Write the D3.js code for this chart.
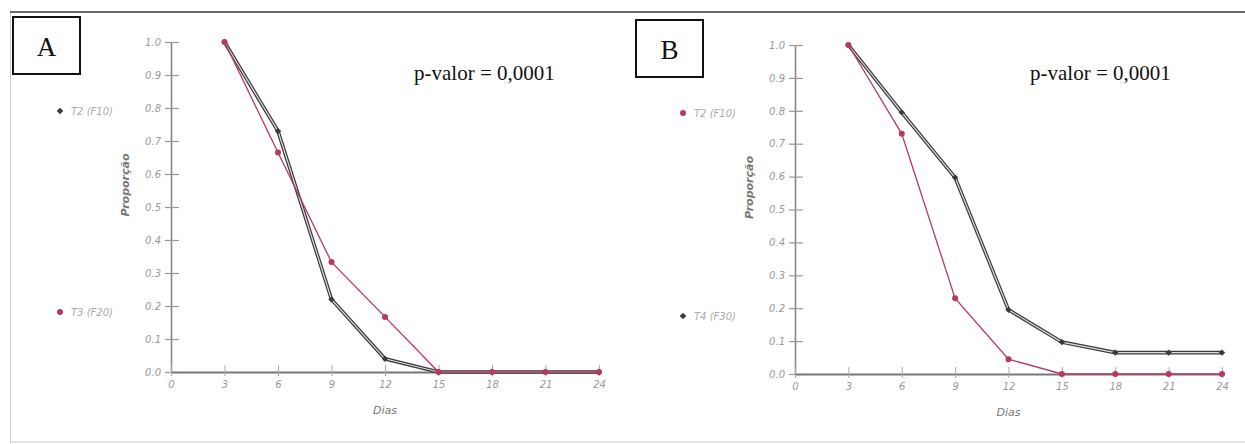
<!DOCTYPE html>
<html>
<head>
<meta charset="utf-8">
<script src="https://cdn.jsdelivr.net/npm/d3@7"></script>
<style>
  body { margin: 0; background: #fff; }
  .tickText { font-family: "DejaVu Sans", sans-serif; font-style: italic; font-size: 10px; fill: #999; }
  .axisLabel { font-family: "DejaVu Sans", sans-serif; font-style: italic; font-size: 11px; fill: #777; }
  .legendText { font-family: "DejaVu Sans", sans-serif; font-style: italic; font-size: 10px; fill: #aaa; }
  .pText { font-family: "Liberation Serif", serif; font-size: 21px; fill: #111; }
  .panelText { font-family: "Liberation Serif", serif; font-size: 27px; fill: #111; }
</style>
</head>
<body>
<div id="chart"></div>
<script>
// Svg Dimensions
var svgWidth = 1245;
var svgHeight = 444;

// Data
var dias = [3, 6, 9, 12, 15, 18, 21, 24];
var xTicks = [0, 3, 6, 9, 12, 15, 18, 21, 24];
var yTicks = [0.0, 0.1, 0.2, 0.3, 0.4, 0.5, 0.6, 0.7, 0.8, 0.9, 1.0];

// Panel A
var aT2 = [1.0, 0.73, 0.22, 0.04, 0.0, 0.0, 0.0, 0.0];
var aT3 = [1.0, 0.665, 0.333, 0.167, 0.0, 0.0, 0.0, 0.0];
// Panel B
var bT2 = [1.0, 0.73, 0.23, 0.045, 0.0, 0.0, 0.0, 0.0];
var bT4 = [1.0, 0.795, 0.597, 0.195, 0.097, 0.065, 0.065, 0.065];

var redColor = "#b73a5e";
var darkColor = "#3a3a3a";

var svg = d3.select("#chart")
    .append("svg")
    .attr("width", svgWidth)
    .attr("height", svgHeight);

// Outer frame
svg.append("rect")
    .attr("x", 10.5)
    .attr("y", 12)
    .attr("width", 1240)
    .attr("height", 430)
    .attr("fill", "none")
    .attr("stroke", "#ccc")
    .attr("stroke-width", 1);
svg.append("line")
    .attr("x1", 10).attr("x2", svgWidth)
    .attr("y1", 12).attr("y2", 12)
    .attr("stroke", "#444")
    .attr("stroke-width", 1.5);

// Function used to draw one panel
function drawPanel(opts) {
    var xScale = d3.scaleLinear().domain([0, 24]).range([opts.x0, opts.x1]);
    var yScale = d3.scaleLinear().domain([0, 1]).range([opts.y0, opts.y1]);
    var g = svg.append("g");

    // Panel label box
    g.append("rect")
        .attr("x", opts.box[0]).attr("y", opts.box[1])
        .attr("width", 67).attr("height", 57)
        .attr("fill", "none")
        .attr("stroke", "#111")
        .attr("stroke-width", 2);
    g.append("text")
        .classed("panelText", true)
        .attr("x", opts.box[0] + 33.5)
        .attr("y", opts.box[1] + 39)
        .attr("text-anchor", "middle")
        .text(opts.name);

    // p-valor
    g.append("text")
        .classed("pText", true)
        .attr("x", opts.pX)
        .attr("y", 80)
        .text("p-valor = 0,0001");

    // Y axis
    var leftAxis = d3.axisLeft(yScale)
        .tickValues(yTicks)
        .tickSize(0)
        .tickPadding(10)
        .tickFormat(d3.format(".1f"));
    var yAxis = g.append("g")
        .attr("transform", `translate(${opts.x0}, 0)`)
        .call(leftAxis);
    yAxis.select(".domain").attr("stroke", "#888").attr("stroke-width", 1.6);
    yAxis.selectAll(".tick line")
        .attr("x1", -6).attr("x2", 8)
        .attr("stroke", "#999")
        .attr("stroke-width", 1.2);
    yAxis.selectAll(".tick text")
        .attr("class", "tickText")
        .attr("font-family", null)
        .attr("font-size", null);

    // X axis
    var bottomAxis = d3.axisBottom(xScale)
        .tickValues(xTicks)
        .tickSize(0)
        .tickPadding(9);
    var xAxis = g.append("g")
        .attr("transform", `translate(0, ${opts.y0})`)
        .call(bottomAxis);
    xAxis.select(".domain").attr("stroke", "#777").attr("stroke-width", 1.8);
    xAxis.selectAll(".tick line")
        .attr("y1", -7).attr("y2", 4)
        .attr("stroke", "#aaa")
        .attr("stroke-width", 1);
    xAxis.selectAll(".tick text")
        .attr("class", "tickText")
        .attr("font-family", null)
        .attr("font-size", null);

    // Axis labels
    g.append("text")
        .classed("axisLabel", true)
        .attr("x", (opts.x0 + opts.x1) / 2)
        .attr("y", opts.y0 + 42)
        .attr("text-anchor", "middle")
        .text("Dias");
    g.append("text")
        .classed("axisLabel", true)
        .attr("transform", `translate(${opts.x0 - 42}, ${(opts.y0 + opts.y1) / 2 - 22}) rotate(-90)`)
        .attr("text-anchor", "middle")
        .attr("font-weight", "bold")
        .attr("font-size", "12px")
        .text("Proporção");

    var line = d3.line()
        .x((d, i) => xScale(dias[i]))
        .y(d => yScale(d));

    // Dark series (double line)
    g.append("path")
        .datum(opts.dark)
        .attr("d", line)
        .attr("fill", "none")
        .attr("stroke", darkColor)
        .attr("stroke-width", 3.6);
    g.append("path")
        .datum(opts.dark)
        .attr("d", line)
        .attr("fill", "none")
        .attr("stroke", "#ddd")
        .attr("stroke-width", 1.2);

    // Red series
    g.append("path")
        .datum(opts.red)
        .attr("d", line)
        .attr("fill", "none")
        .attr("stroke", redColor)
        .attr("stroke-width", 1.3);

    // Markers
    g.selectAll(".darkDot")
        .data(opts.dark)
        .enter()
        .append("path")
        .attr("d", d3.symbol(d3.symbolSquare, 20))
        .attr("transform", (d, i) => `translate(${xScale(dias[i])}, ${yScale(d)}) rotate(45)`)
        .attr("fill", darkColor);
    g.selectAll(".redDot")
        .data(opts.red)
        .enter()
        .append("circle")
        .attr("cx", (d, i) => xScale(dias[i]))
        .attr("cy", d => yScale(d))
        .attr("r", 3)
        .attr("fill", redColor);

    // Legend
    opts.legend.forEach(function(item) {
        if (item.color === darkColor) {
            g.append("path")
                .attr("d", d3.symbol(d3.symbolSquare, 22))
                .attr("transform", `translate(${item.x}, ${item.y}) rotate(45)`)
                .attr("fill", item.color);
        } else {
            g.append("circle")
                .attr("cx", item.x).attr("cy", item.y)
                .attr("r", 3).attr("fill", item.color);
        }
        g.append("text")
            .classed("legendText", true)
            .attr("x", item.x + 11)
            .attr("y", item.y + 4)
            .text(item.label);
    });
}

drawPanel({
    name: "A", box: [13, 17], pX: 414,
    x0: 171, x1: 599, y0: 372, y1: 42,
    dark: aT2, red: aT3,
    legend: [
        { label: "T2 (F10)", color: darkColor, x: 60, y: 111 },
        { label: "T3 (F20)", color: redColor, x: 60, y: 312 }
    ]
});

drawPanel({
    name: "B", box: [636, 20], pX: 1030,
    x0: 795, x1: 1222, y0: 374, y1: 45,
    dark: bT4, red: bT2,
    legend: [
        { label: "T2 (F10)", color: redColor, x: 683, y: 113 },
        { label: "T4 (F30)", color: darkColor, x: 683, y: 316 }
    ]
});
</script>
</body>
</html>
